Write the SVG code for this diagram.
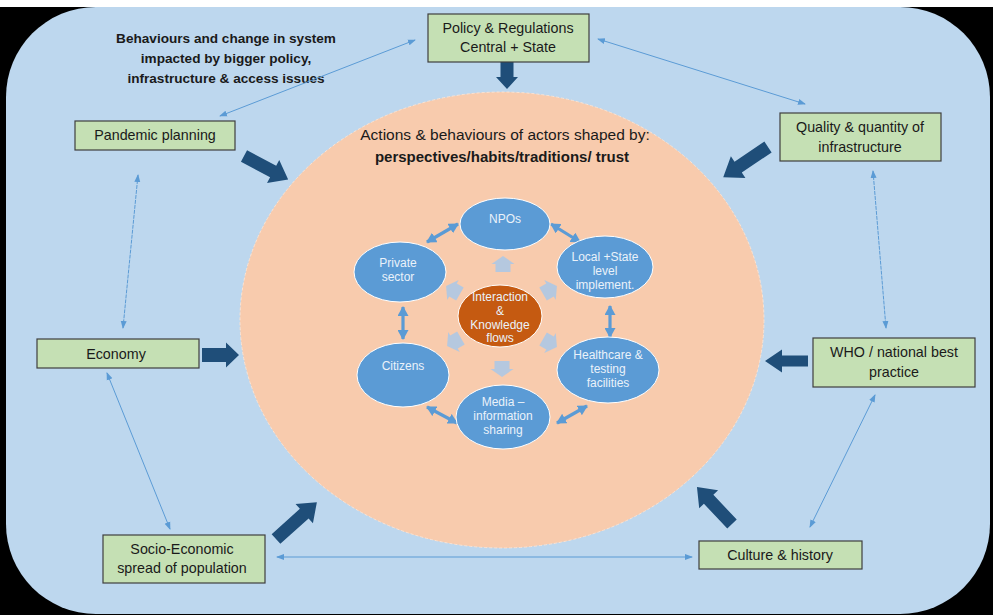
<svg xmlns="http://www.w3.org/2000/svg" width="993" height="615" viewBox="0 0 993 615">
<defs>
<style>
.box{fill:#C5E0B4;stroke:#3F3F3F;stroke-width:1.2}
.bt{font-family:"Liberation Sans",Arial,sans-serif;font-size:14.3px;fill:#1A1A1A;text-anchor:middle}
.thin{stroke:#5B9BD5;stroke-width:1;fill:none;marker-start:url(#ms);marker-end:url(#ms)}
.med{stroke:#5B9BD5;stroke-width:3.2;fill:none;marker-start:url(#mm);marker-end:url(#mm)}
.big{fill:#1F4E79}
.el{fill:#5B9BD5;stroke:#FFFFFF;stroke-width:1}
.et{font-family:"Liberation Sans",Arial,sans-serif;font-size:12px;fill:#EAF2FA;text-anchor:middle}
.pale{fill:#A9C8E8;opacity:0.85}
</style>
<marker id="ms" markerUnits="userSpaceOnUse" markerWidth="8" markerHeight="8" viewBox="0 0 8 8" refX="7" refY="4" orient="auto-start-reverse"><path d="M0,1 L8,4 L0,7 Z" fill="#5B9BD5"/></marker>
<marker id="mm" markerUnits="userSpaceOnUse" markerWidth="10" markerHeight="11" viewBox="0 0 10 11" refX="9" refY="5.5" orient="auto-start-reverse"><path d="M0,0 L10,5.5 L0,11 Z" fill="#5B9BD5"/></marker>
</defs>
<rect x="0" y="0" width="993" height="615" fill="#000000"/>
<rect x="0" y="0" width="993" height="7" fill="#FFFFFF"/>
<rect x="6" y="7" width="984" height="607" rx="90" ry="90" fill="#BDD7EE"/>
<ellipse cx="502" cy="320" rx="262" ry="228" fill="#F8CBAD" stroke="#FBE3D3" stroke-width="1" stroke-dasharray="3 2"/>

<g id="intro-text" font-family="Liberation Sans,Arial,sans-serif" font-weight="bold" font-size="13.6" fill="#1A1A1A" text-anchor="middle">
<text x="226" y="43">Behaviours and change in system</text>
<text x="226" y="63">impacted by bigger policy,</text>
<text x="226" y="83">infrastructure &amp; access issues</text>
</g>
<g id="actions-text">
<text x="505" y="140" class="bt" style="font-size:15.5px">Actions &amp; behaviours of actors shaped by:</text>
<text x="502" y="162" class="bt" style="font-size:15px" font-weight="bold">perspectives/habits/traditions/ trust</text>
</g>

<g id="connectors">
<line class="thin" x1="415" y1="40" x2="220" y2="116"/>
<line class="thin" x1="598" y1="39" x2="805" y2="104"/>
<line class="thin" x1="138" y1="175" x2="123" y2="328" stroke-dasharray="4 1"/>
<line class="thin" x1="107" y1="373" x2="170" y2="529"/>
<line class="thin" x1="277" y1="557" x2="692" y2="557"/>
<line class="thin" x1="873" y1="171" x2="886" y2="328" stroke-dasharray="4 1"/>
<line class="thin" x1="875" y1="395" x2="810" y2="527"/>
<path class="big" transform="translate(507,62) rotate(90)" d="M0,-6.5 H15 V-11 L27,0 L15,11 V6.5 H0 Z"/>
<path class="big" transform="translate(244,156) rotate(28)" d="M0,-6.5 H33 V-13 L50,0 L33,13 V6.5 H0 Z"/>
<path class="big" transform="translate(768,147) rotate(146)" d="M0,-6.5 H36 V-13 L54,0 L36,13 V6.5 H0 Z"/>
<path class="big" transform="translate(202,355) rotate(0)" d="M0,-7 H24 V-12.5 L37,0 L24,12.5 V7 H0 Z"/>
<path class="big" transform="translate(276,539) rotate(-42)" d="M0,-6.5 H38 V-13 L55,0 L38,13 V6.5 H0 Z"/>
<path class="big" transform="translate(808,361) rotate(180)" d="M0,-5.5 H26 V-11.5 L43,0 L26,11.5 V5.5 H0 Z"/>
<path class="big" transform="translate(732,524) rotate(-133.4)" d="M0,-6.5 H34 V-13 L51,0 L34,13 V6.5 H0 Z"/>
<line class="med" x1="427" y1="242" x2="458" y2="224"/>
<line class="med" x1="551" y1="224" x2="580" y2="242"/>
<line class="med" x1="403" y1="307" x2="403" y2="339"/>
<line class="med" x1="610" y1="306" x2="610" y2="337"/>
<line class="med" x1="427" y1="407" x2="457" y2="423"/>
<line class="med" x1="587" y1="406" x2="557" y2="423"/>
<path class="pale" transform="translate(503,264)" d="M-7.5,8 V0 H-11.5 L0,-8 L11.5,0 H7.5 V8 Z"/>
<path class="pale" transform="translate(502,369) rotate(180)" d="M-7.5,8 V0 H-11.5 L0,-8 L11.5,0 H7.5 V8 Z"/>
<path class="pale" transform="translate(453,290) rotate(-60)" d="M-7.5,8 V0 H-11.5 L0,-8 L11.5,0 H7.5 V8 Z"/>
<path class="pale" transform="translate(550,290) rotate(60)" d="M-7.5,8 V0 H-11.5 L0,-8 L11.5,0 H7.5 V8 Z"/>
<path class="pale" transform="translate(454,342) rotate(-120)" d="M-7.5,8 V0 H-11.5 L0,-8 L11.5,0 H7.5 V8 Z"/>
<path class="pale" transform="translate(550,343) rotate(120)" d="M-7.5,8 V0 H-11.5 L0,-8 L11.5,0 H7.5 V8 Z"/>
</g>

<g id="policy"><rect class="box" x="428" y="14" width="161" height="48"/><text class="bt" x="508" y="33">Policy &amp; Regulations</text><text class="bt" x="508" y="52">Central + State</text></g>
<g id="pandemic"><rect class="box" x="75" y="121" width="160" height="29"/><text class="bt" x="155" y="140">Pandemic planning</text></g>
<g id="quality"><rect class="box" x="780" y="113" width="161" height="48"/><text class="bt" x="860" y="132">Quality &amp; quantity of</text><text class="bt" x="860" y="152">infrastructure</text></g>
<g id="economy"><rect class="box" x="37" y="339" width="162" height="29"/><text class="bt" x="116" y="359">Economy</text></g>
<g id="socio"><rect class="box" x="103" y="535" width="162" height="48"/><text class="bt" x="182" y="554">Socio-Economic</text><text class="bt" x="182" y="573">spread of population</text></g>
<g id="who"><rect class="box" x="813" y="338" width="162" height="49"/><text class="bt" x="894" y="357">WHO / national best</text><text class="bt" x="894" y="377">practice</text></g>
<g id="culture"><rect class="box" x="699" y="541" width="163" height="28"/><text class="bt" x="780" y="560">Culture &amp; history</text></g>

<g id="npos"><ellipse class="el" cx="505" cy="224" rx="45" ry="26"/><text class="et" x="505" y="223">NPOs</text></g>
<g id="private"><ellipse class="el" cx="400" cy="272" rx="46" ry="30"/><text class="et" x="398" y="267">Private</text><text class="et" x="398" y="281">sector</text></g>
<g id="local"><ellipse class="el" cx="605" cy="267" rx="48" ry="31"/><text class="et" x="605" y="261">Local +State</text><text class="et" x="605" y="275">level</text><text class="et" x="605" y="289">implement.</text></g>
<g id="interaction"><ellipse cx="500" cy="316" rx="42" ry="31" fill="#C55A11" stroke="#FFFFFF" stroke-width="1"/><text class="et" x="500" y="301" fill="#F4D9C6">Interaction</text><text class="et" x="500" y="315" fill="#F4D9C6">&amp;</text><text class="et" x="500" y="329" fill="#F4D9C6">Knowledge</text><text class="et" x="500" y="342" fill="#F4D9C6">flows</text></g>
<g id="citizens"><ellipse class="el" cx="403" cy="375" rx="46" ry="32"/><text class="et" x="403" y="370">Citizens</text></g>
<g id="healthcare"><ellipse class="el" cx="608" cy="370" rx="51" ry="33"/><text class="et" x="608" y="359">Healthcare &amp;</text><text class="et" x="608" y="373">testing</text><text class="et" x="608" y="387">facilities</text></g>
<g id="media"><ellipse class="el" cx="503" cy="417" rx="47" ry="32"/><text class="et" x="503" y="406">Media –</text><text class="et" x="503" y="420">information</text><text class="et" x="503" y="434">sharing</text></g>
</svg>
